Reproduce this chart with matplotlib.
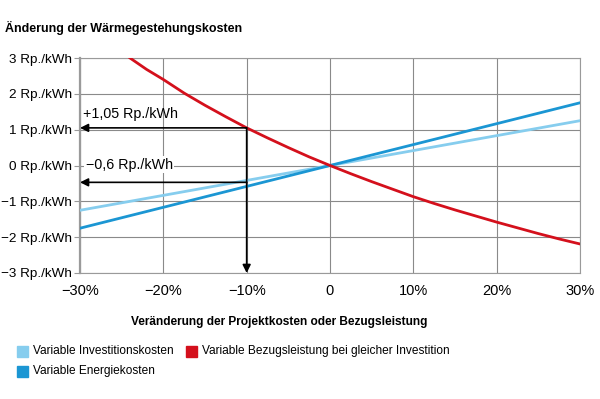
import matplotlib
matplotlib.use("Agg")
import matplotlib.pyplot as plt

plt.rcParams['font.family'] = ['Liberation Sans', 'DejaVu Sans']

# Data
x_lin = [-30, 0, 30]
invest = [-1.25, 0, 1.25]
energie = [-1.75, 0, 1.75]
x_red = [-24, -22, -20, -17.5, -15, -12.5, -10, -7.5, -5, -2.5, 0,
         2.5, 5, 7.5, 10, 12.5, 15, 17.5, 20, 22.5, 25, 27.5, 30]
bezug = [3.0, 2.68, 2.4, 2.02, 1.68, 1.36, 1.05, 0.77, 0.5, 0.24, 0.0,
         -0.23, -0.45, -0.66, -0.87, -1.06, -1.24, -1.41, -1.58, -1.74, -1.9, -2.05, -2.19]
xticks = [-30, -20, -10, 0, 10, 20, 30]
xticklabels = ["\u221230%", "\u221220%", "\u221210%", "0", "10%", "20%", "30%"]
yticks = [-3, -2, -1, 0, 1, 2, 3]
yticklabels = ["\u22123 Rp./kWh", "\u22122 Rp./kWh", "\u22121 Rp./kWh", "0 Rp./kWh",
               "1 Rp./kWh", "2 Rp./kWh", "3 Rp./kWh"]
ann_x = -10
ann_up = 1.05
ann_down = -0.47

C_LIGHT = "#86cdee"
C_DARK = "#1b96d3"
C_RED = "#d4101c"

fig = plt.figure(figsize=(6, 3.99), dpi=100)
ax = fig.add_axes([80/600, 1-273/399, 500/600, 215/399])

ax.set_xlim(-30, 30)
ax.set_ylim(-3, 3)
ax.set_xticks(xticks)
ax.set_xticklabels(xticklabels, fontsize=10.5)
ax.set_yticks(yticks)
ax.set_yticklabels(yticklabels, fontsize=9.7)
ax.grid(True, color="#8a8a8a", linewidth=0.8)
ax.set_axisbelow(True)
for s in ax.spines.values():
    s.set_color("#9a9a9a")
    s.set_linewidth(0.8)
ax.spines['left'].set_linewidth(1.6)
ax.tick_params(axis='y', length=4, color="#9a9a9a", pad=1.5)
ax.tick_params(axis='x', length=0, pad=8)

ax.plot(x_lin, invest, color=C_LIGHT, lw=2.0, zorder=3)
ax.plot(x_lin, energie, color=C_DARK, lw=2.0, zorder=3)
ax.plot(x_red, bezug, color=C_RED, lw=2.0, zorder=4)

# arrows
ap = dict(arrowstyle="-|>", color="black", lw=1.2, mutation_scale=12, shrinkA=0, shrinkB=0)
ax.annotate("", xy=(-30, ann_up), xytext=(ann_x, ann_up), arrowprops=ap, zorder=5)
ax.annotate("", xy=(ann_x, -3), xytext=(ann_x, ann_up), arrowprops=ap, zorder=5, annotation_clip=False)
ax.annotate("", xy=(-30, ann_down), xytext=(ann_x, ann_down), arrowprops=ap, zorder=5)

ax.text(-29.6, ann_up + 0.18, "+1,05 Rp./kWh", fontsize=10.3, va="bottom", ha="left", zorder=6)
ax.text(-29.3, 0.02, "\u22120,6 Rp./kWh", fontsize=10.3, va="center", ha="left", zorder=6,
        bbox=dict(facecolor="white", edgecolor="none", pad=1.0))

fig.text(5/600, 1-28/399, "Änderung der Wärmegestehungskosten", fontsize=9,
         fontweight="bold", va="center", ha="left")
fig.text(279/600, 1-322/399, "Veränderung der Projektkosten oder Bezugsleistung", fontsize=8.6,
         fontweight="bold", va="center", ha="center")

# legend
def leg(xp, yp, color, label):
    fig.patches.append(plt.Rectangle((xp/600, 1-(yp+6)/399), 11/600, 11/399,
                                     transform=fig.transFigure, color=color))
    fig.text((xp+16)/600, 1-yp/399, label, fontsize=8.6, va="center", ha="left")

leg(17, 351, C_LIGHT, "Variable Investitionskosten")
leg(186, 351, C_RED, "Variable Bezugsleistung bei gleicher Investition")
leg(17, 371, C_DARK, "Variable Energiekosten")

fig.savefig("out.png", dpi=100)
